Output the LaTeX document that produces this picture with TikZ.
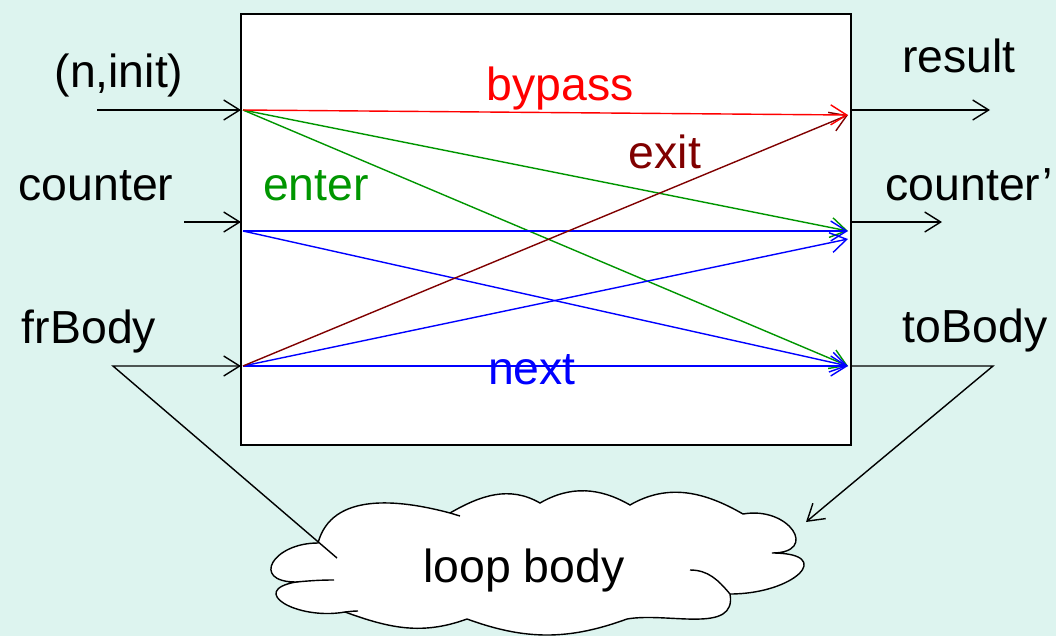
\documentclass[tikz,border=0pt]{standalone}
\usepackage{fontspec}
\setmainfont{Liberation Sans}
\usetikzlibrary{arrows.meta}
\definecolor{bgmint}{RGB}{221,244,239}
\definecolor{entergreen}{RGB}{0,150,0}
\definecolor{exitred}{RGB}{128,0,0}
\tikzset{
    wire/.style={line width=1pt, -{Straight Barb[length=0.4cm, width=0.5cm]}},
    txt/.style={font=\fontsize{33}{40}\selectfont, inner sep=0pt, anchor=base}
}

\begin{document}
\begin{tikzpicture}
    \fill[bgmint] (0, 0) rectangle (26.4, -15.9);
    \useasboundingbox (0, 0) rectangle (26.4, -15.9);

    \node[draw, fill=white, line width=1pt, inner sep=0pt,
          minimum width=15.25cm, minimum height=10.775cm] (BOX) at (13.65, -5.7375) {};

    % cloud
    \filldraw[fill=white, line width=1pt] (7.95, -13.575)
        to[out=75, in=165] (11.25, -12.825)
        to[out=30, in=150] (13.5, -12.575)
        to[out=30, in=150] (15.75, -12.625)
        to[out=30, in=150] (18.575, -12.85)
        to[out=10, in=0, looseness=2.5] (19.3, -13.825)
        to[out=0, in=0, looseness=2.8] (18.25, -14.85)
        to[out=-80, in=10] (15.675, -15.475)
        to[out=200, in=-20] (11.675, -15.475)
        to[out=200, in=-20] (8.625, -15.3)
        to[out=190, in=190, looseness=2.2] (7.4, -14.55)
        to[out=180, in=180, looseness=2.6] (7.95, -13.575) -- cycle;
    \draw[line width=1pt] (7.4, -14.55) to[out=5, in=180] (8.35, -14.5);
    \draw[line width=1pt] (8.625, -15.3) to[out=5, in=180] (8.95, -15.275);
    \draw[line width=1pt] (11.25, -12.825) to[out=-15, in=165] (11.5, -12.9);
    \draw[line width=1pt] (18.25, -14.85) to[out=130, in=0] (17.25, -14.25);

    % ports on the box
    \coordinate (INA) at (6.025, -2.75);
    \coordinate (INB) at (6.025, -5.55);
    \coordinate (INC) at (6.025, -9.15);
    \coordinate (SA) at (6.075, -2.75);
    \coordinate (SB) at (6.075, -5.775);
    \coordinate (SC) at (6.075, -9.15);
    \coordinate (EA) at (21.2, -2.875);
    \coordinate (EB) at (21.2, -5.775);
    \coordinate (EB2) at (21.2, -5.975);
    \coordinate (EC) at (21.2, -9.15);
    \coordinate (OUTA) at (21.275, -2.75);
    \coordinate (OUTB) at (21.275, -5.55);
    \coordinate (OUTC) at (21.275, -9.15);

    % outside ends
    \coordinate (NINITK) at (2.425, -2.75);
    \coordinate (COUNTERK) at (4.6, -5.55);
    \coordinate (FRBODYK) at (2.825, -9.15);
    \coordinate (RESULTK) at (24.75, -2.75);
    \coordinate (COUNTER2K) at (23.55, -5.55);
    \coordinate (TOBODYK) at (24.825, -9.15);
    \coordinate (BODYIN) at (8.425, -13.95);
    \coordinate (BODYOUT) at (20.15, -13.05);

    \draw[wire] (NINITK) -- (INA);
    \draw[wire] (COUNTERK) -- (INB);
    \draw[wire] (BODYIN) -- (FRBODYK) -- (INC);
    \draw[wire] (OUTA) -- (RESULTK);
    \draw[wire] (OUTB) -- (COUNTER2K);
    \draw[wire] (OUTC) -- (TOBODYK) -- (BODYOUT);

    \draw[wire, entergreen] (SA) -- (EB);
    \draw[wire, entergreen] (SA) -- (EC);
    \draw[wire, blue] (SB) -- (EB);
    \draw[wire, blue] (SB) -- (EC);
    \draw[wire, blue] (SC) -- (EB2);
    \draw[wire, blue] (SC) -- (EC);
    \draw[wire, exitred] (SC) -- (EA);
    \draw[wire, red] (SA) -- (EA);

    \node[txt] (NINIT) at (2.975, -2.175) {(n,init)};
    \node[txt] (COUNTER) at (2.4, -5.0) {counter};
    \node[txt] (FRBODY) at (2.225, -8.575) {frBody};
    \node[txt] (RESULT) at (23.975, -1.8) {result};
    \node[txt] (COUNTER2) at (24.225, -5.0) {counter'};
    \node[txt] (TOBODY) at (24.375, -8.55) {toBody};
    \node[txt, red] (BYPASS) at (14.0, -2.5) {bypass};
    \node[txt, exitred] (EXIT) at (16.625, -4.2) {exit};
    \node[txt, entergreen] (ENTER) at (7.9, -5.0) {enter};
    \node[txt, blue] (NEXT) at (13.3, -9.6) {next};
    \node[txt] (LOOPBODY) at (13.1, -14.55) {loop body};
\end{tikzpicture}
\end{document}
